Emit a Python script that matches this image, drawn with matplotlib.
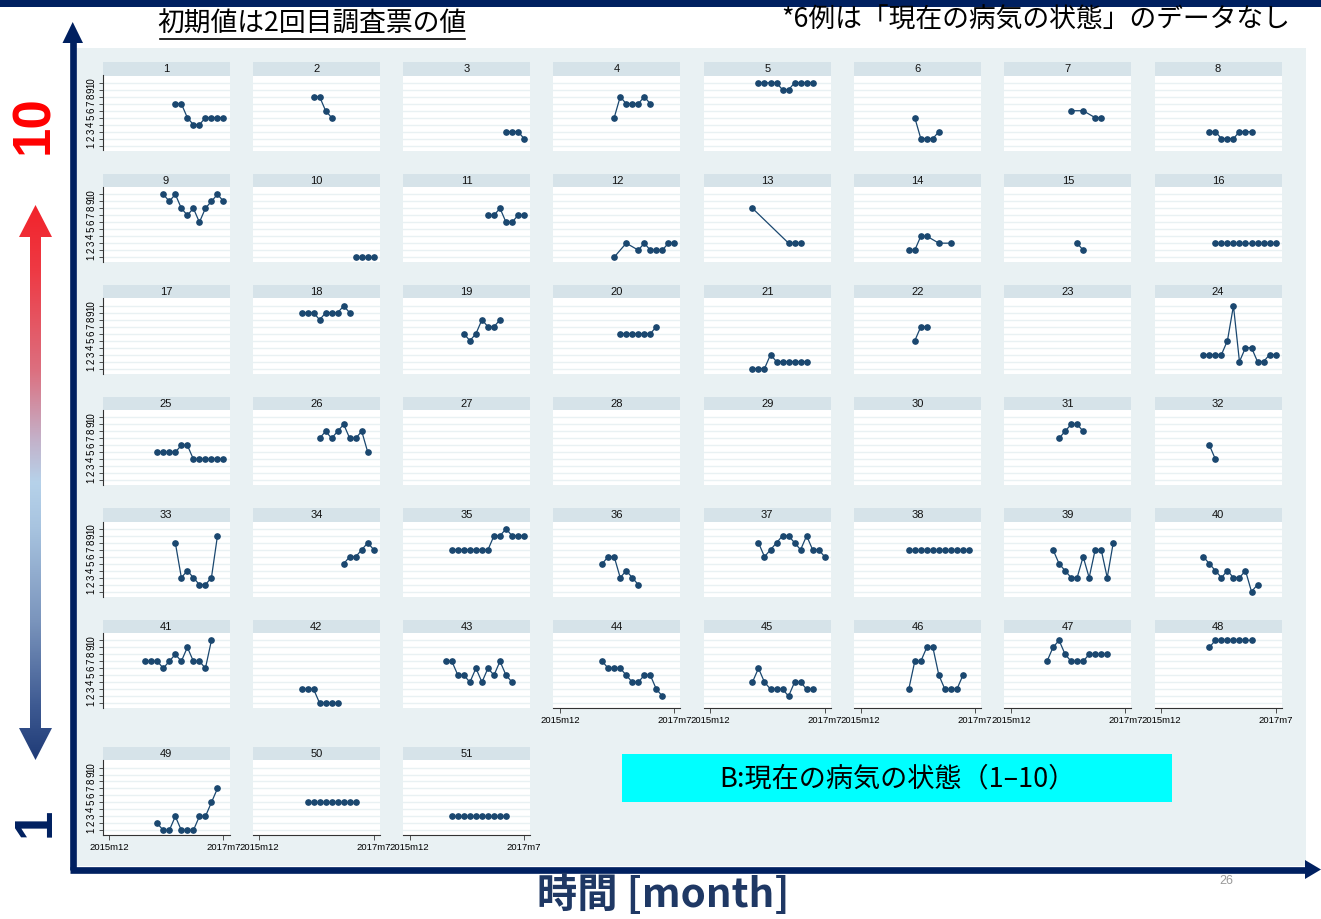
import numpy as np
import matplotlib
matplotlib.use("Agg")
import matplotlib.pyplot as plt
from matplotlib.patches import Rectangle, Polygon
from matplotlib.colors import LinearSegmentedColormap

# ---------------- data ----------------
x_tick_months = [0, 19]
x_tick_labels = ["2015m12", "2017m7"]
y_ticks = list(range(1, 11))

panel_months = {
    1: list(range(11, 20)), 2: list(range(9, 13)), 3: list(range(16, 20)), 4: list(range(9, 16)),
    5: list(range(8, 18)), 6: list(range(9, 14)), 7: [10, 12, 14, 15], 8: list(range(8, 16)),
    9: list(range(9, 20)), 10: list(range(16, 20)), 11: list(range(13, 20)),
    12: [9, 11, 13, 14, 15, 16, 17, 18, 19], 13: [7, 13, 14, 15], 14: [8, 9, 10, 11, 13, 15],
    15: [11, 12], 16: list(range(9, 20)), 17: [],
    18: list(range(7, 16)), 19: list(range(9, 16)), 20: list(range(10, 17)), 21: list(range(7, 17)),
    22: [9, 10, 11], 23: [], 24: list(range(7, 20)),
    25: list(range(8, 20)), 26: list(range(10, 19)), 27: [], 28: [], 29: [], 30: [],
    31: list(range(8, 13)), 32: [8, 9],
    33: list(range(11, 19)), 34: list(range(14, 20)), 35: list(range(7, 20)), 36: list(range(7, 14)),
    37: list(range(8, 20)), 38: list(range(8, 19)), 39: list(range(7, 18)), 40: list(range(7, 17)),
    41: list(range(6, 18)), 42: list(range(7, 14)), 43: list(range(6, 18)), 44: list(range(7, 18)),
    45: list(range(7, 18)), 46: list(range(8, 18)), 47: list(range(6, 17)), 48: list(range(8, 16)),
    49: list(range(8, 19)), 50: list(range(8, 17)), 51: list(range(7, 17)),
}
panel_values = {
    1: [7, 7, 5, 4, 4, 5, 5, 5, 5], 2: [8, 8, 6, 5], 3: [3, 3, 3, 2], 4: [5, 8, 7, 7, 7, 8, 7],
    5: [10, 10, 10, 10, 9, 9, 10, 10, 10, 10], 6: [5, 2, 2, 2, 3], 7: [6, 6, 5, 5],
    8: [3, 3, 2, 2, 2, 3, 3, 3],
    9: [10, 9, 10, 8, 7, 8, 6, 8, 9, 10, 9], 10: [1, 1, 1, 1], 11: [7, 7, 8, 6, 6, 7, 7],
    12: [1, 3, 2, 3, 2, 2, 2, 3, 3], 13: [8, 3, 3, 3], 14: [2, 2, 4, 4, 3, 3], 15: [3, 2],
    16: [3] * 11, 17: [],
    18: [9, 9, 9, 8, 9, 9, 9, 10, 9], 19: [6, 5, 6, 8, 7, 7, 8], 20: [6, 6, 6, 6, 6, 6, 7],
    21: [1, 1, 1, 3, 2, 2, 2, 2, 2, 2], 22: [5, 7, 7], 23: [],
    24: [3, 3, 3, 3, 5, 10, 2, 4, 4, 2, 2, 3, 3],
    25: [5, 5, 5, 5, 6, 6, 4, 4, 4, 4, 4, 4], 26: [7, 8, 7, 8, 9, 7, 7, 8, 5],
    27: [], 28: [], 29: [], 30: [], 31: [7, 8, 9, 9, 8], 32: [6, 4],
    33: [8, 3, 4, 3, 2, 2, 3, 9], 34: [5, 6, 6, 7, 8, 7],
    35: [7, 7, 7, 7, 7, 7, 7, 9, 9, 10, 9, 9, 9], 36: [5, 6, 6, 3, 4, 3, 2],
    37: [8, 6, 7, 8, 9, 9, 8, 7, 9, 7, 7, 6], 38: [7] * 11,
    39: [7, 5, 4, 3, 3, 6, 3, 7, 7, 3, 8], 40: [6, 5, 4, 3, 4, 3, 3, 4, 1, 2],
    41: [7, 7, 7, 6, 7, 8, 7, 9, 7, 7, 6, 10], 42: [3, 3, 3, 1, 1, 1, 1],
    43: [7, 7, 5, 5, 4, 6, 4, 6, 5, 7, 5, 4], 44: [7, 6, 6, 6, 5, 4, 4, 5, 5, 3, 2],
    45: [4, 6, 4, 3, 3, 3, 2, 4, 4, 3, 3], 46: [3, 7, 7, 9, 9, 5, 3, 3, 3, 5],
    47: [7, 9, 10, 8, 7, 7, 7, 8, 8, 8, 8], 48: [9, 10, 10, 10, 10, 10, 10, 10],
    49: [2, 1, 1, 3, 1, 1, 1, 3, 3, 5, 7], 50: [5] * 9, 51: [3] * 10,
}

# ---------------- figure ----------------
W, H = 1321, 919
fig = plt.figure(figsize=(W / 100, H / 100), dpi=100)
JP = ["Noto Sans CJK JP", "DejaVu Sans"]
LAT = ["Liberation Sans", "DejaVu Sans"]

NAVY = "#002060"
LINE_C = "#1A476F"
OUTER_BG = "#E9F1F3"
STRIP_C = "#D6E3E9"
GRID_C = "#E9F1F3"

bg = fig.add_axes([0, 0, 1, 1], zorder=0)
bg.set_xlim(0, W)
bg.set_ylim(H, 0)
bg.axis("off")

# top bar
bg.add_patch(Rectangle((0, 0), W, 6.5, color=NAVY, lw=0))
# light background box
bg.add_patch(Rectangle((76, 48), 1306 - 76, 866 - 48, color=OUTER_BG, lw=0))

# axes arrows (navy)
bg.plot([72.7, 72.7], [869.5, 40], color=NAVY, lw=4.8, solid_capstyle="butt")
bg.add_patch(Polygon([[72.7, 22], [62.5, 43], [83, 43]], closed=True, color=NAVY, lw=0))
bg.plot([69.5, 1306], [869.5, 869.5], color=NAVY, lw=4.8, solid_capstyle="butt")
bg.add_patch(Polygon([[1321, 869.5], [1305, 860], [1305, 879]], closed=True, color=NAVY, lw=0))

# gradient double arrow
cmap = LinearSegmentedColormap.from_list(
    "grad",
    [(0.0, "#F2222A"), (0.12, "#EE3A44"), (0.3, "#DC7080"), (0.42, "#C4B0C8"),
     (0.5, "#B6D2EA"), (0.58, "#A8C4E0"), (0.75, "#7A94BC"), (0.9, "#3E5A92"), (1.0, "#1E3A76")])
ax_g = fig.add_axes([15 / W, 1 - 762 / H, 40 / W, (762 - 203) / H], zorder=1)
ax_g.set_xlim(15, 55)
ax_g.set_ylim(762, 203)
ax_g.axis("off")
grad = np.linspace(0, 1, 256).reshape(-1, 1)
im = ax_g.imshow(grad, cmap=cmap, aspect="auto", extent=[15, 55, 762, 203])
arrow_poly = Polygon([[35.5, 205], [52, 237], [41, 237], [41, 728], [52, 728], [35.5, 760],
                      [19, 728], [30, 728], [30, 237], [19, 237]], closed=True,
                     transform=ax_g.transData, facecolor="none", edgecolor="none")
ax_g.add_patch(arrow_poly)
im.set_clip_path(arrow_poly)

# big axis labels
bg.text(34, 125, "10", rotation=90, ha="center", va="center", color="#FF0000",
        fontsize=38, fontweight="bold", family=LAT)
bg.text(36, 822, "1", rotation=90, ha="center", va="center", color=NAVY,
        fontsize=38, fontweight="bold", family=LAT)

# titles
bg.text(312, 24, "初期値は2回目調査票の値", ha="center", va="center", fontsize=19.3,
        family=JP, color="black")
bg.plot([160, 465], [38.5, 38.5], color="black", lw=1.2)
bg.text(1290, 20, "*6例は「現在の病気の状態」のデータなし", ha="right", va="center",
        fontsize=19.3, family=JP, color="black")

# cyan box
bg.add_patch(Rectangle((622, 754), 1172 - 622, 802 - 754, color="#00FFFF", lw=0))
bg.text(897, 779, "B:現在の病気の状態（1–10）", ha="center", va="center", fontsize=19.5,
        family=JP, color="black")

# x label
bg.text(663, 895, "時間 [month]", ha="center", va="center", fontsize=29, fontweight="bold",
        family=JP, color="#1F3864")
bg.text(1226, 881, "26", ha="center", va="center", fontsize=9, color="#999999", family=LAT)

# ---------------- panels ----------------
col_left0 = 102.5
col_pitch = 150.3
pw = 127
strip_h = 13.5
ph = 75
strip_tops = [62, 173.5, 285, 396.5, 508, 619.5, 746.7]

for pid in range(1, 52):
    r, c = divmod(pid - 1, 8)
    L = col_left0 + c * col_pitch
    st = strip_tops[r]
    pt = st + strip_h
    ax = fig.add_axes([L / W, 1 - (pt + ph) / H, pw / W, ph / H], zorder=2)
    ax.set_facecolor("white")
    ax.set_xlim(-1.1, 20.0)
    ax.set_ylim(0.3, 11.05)
    for v in y_ticks:
        ax.axhline(v, color=GRID_C, lw=1.0, zorder=0)
    for s in ax.spines.values():
        s.set_visible(False)
    left = (c == 0)
    bottom = (pid >= 44)
    if left:
        ax.spines["left"].set_visible(True)
        ax.spines["left"].set_color("#333333")
        ax.spines["left"].set_linewidth(0.8)
        ax.set_yticks(y_ticks)
        ax.set_yticklabels([str(v) for v in y_ticks], rotation=90, va="center",
                           fontsize=7, family=LAT)
        ax.tick_params(axis="y", length=3, width=0.6, color="#333333", pad=1.5)
    else:
        ax.set_yticks([])
    if bottom:
        ax.spines["bottom"].set_visible(True)
        ax.spines["bottom"].set_color("#333333")
        ax.spines["bottom"].set_linewidth(0.8)
        ax.set_xticks(x_tick_months)
        ax.set_xticklabels(x_tick_labels, fontsize=6.8, family=LAT)
        ax.tick_params(axis="x", length=3.5, width=0.6, color="#333333", pad=2)
    else:
        ax.set_xticks([])
    m = panel_months[pid]
    v = panel_values[pid]
    if len(m):
        ax.plot(m, v, "-o", color=LINE_C, ms=3.8, lw=0.9, clip_on=False, zorder=3)
    # strip
    bg.add_patch(Rectangle((L, st), pw, strip_h, color=STRIP_C, lw=0))
    bg.text(L + pw / 2, st + strip_h / 2 + 0.5, str(pid), ha="center", va="center",
            fontsize=8, family=LAT, color="#111111")

fig.savefig("out.png", dpi=100)
